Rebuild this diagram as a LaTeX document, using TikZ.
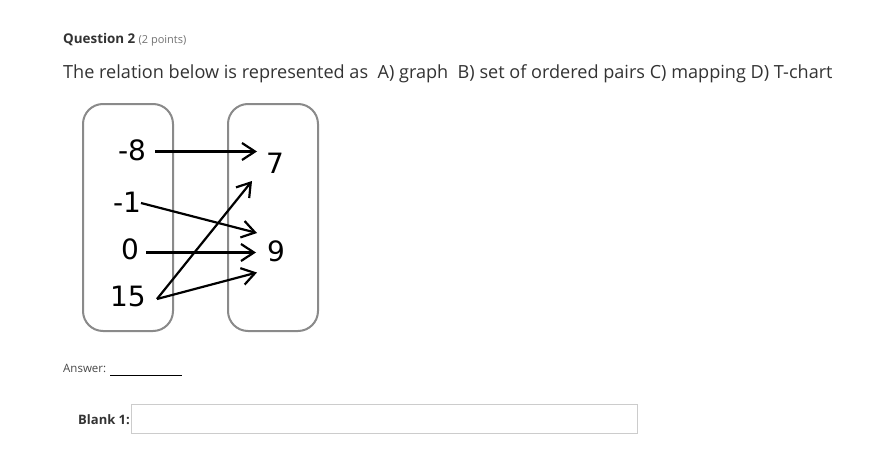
\documentclass[tikz,border=0pt]{standalone}
\usepackage{fontspec}
\setmainfont{Open Sans}
\newfontfamily\numfont{DejaVu Sans}
\usetikzlibrary{arrows.meta}
\definecolor{txt}{HTML}{333333}
\definecolor{boxgray}{HTML}{8A8A8A}
\definecolor{fieldgray}{HTML}{CCCCCC}
\begin{document}
\begin{tikzpicture}[x=1pt,y=-1pt,
  setbox/.style={draw=boxgray,line width=2pt,rounded corners=20pt},
  num/.style={inner sep=0pt,font=\numfont\fontsize{28}{28}\selectfont,text=black},
  maparrow/.style={line width=2.2pt,-{Straight Barb[length=13pt,width=17pt,line width=2.2pt]}},
  lbl/.style={inner sep=0pt,anchor=base west,text=txt}]
\useasboundingbox (0,0) rectangle (884,452);
\fill[white] (0,0) rectangle (884,452);
% header
\node[lbl,font=\fontsize{13.4}{13.4}\selectfont\bfseries] (q) at (63,44) {Question 2};
\node[lbl,font=\fontsize{11}{11}\selectfont,text=gray!90!black,anchor=base west] (pts) at (q.base east) {\ (2 points)};
\node[lbl,font=\fontsize{18.1}{18.1}\selectfont] (stmt) at (63,78) {The relation below is represented as\ \ A) graph\ \ B) set of ordered pairs C) mapping D) T-chart};
% boxes
\draw[setbox] (83,104) rectangle (173,331);
\draw[setbox] (228,104) rectangle (318,331);
% numbers
\node[num] (m8) at (132,150) {-8};
\node[num] (m1) at (127,202) {-1};
\node[num] (z0) at (130,249) {0};
\node[num] (f15) at (128,296) {15};
\node[num] (s7) at (275,163) {7};
\node[num] (n9) at (276,251) {9};
% arrow endpoints
\coordinate (a1s) at (155,151.5);
\coordinate (a1e) at (257,151.5);
\coordinate (a2s) at (141,203);
\coordinate (a2e) at (257,233);
\coordinate (a3s) at (146,252.5);
\coordinate (a3e) at (256,252.5);
\coordinate (a4s) at (157,299);
\coordinate (a4e) at (252,181);
\coordinate (a5e) at (257,272.5);
\draw[maparrow] (a1s) -- (a1e);
\draw[maparrow] (a2s) -- (a2e);
\draw[maparrow] (a3s) -- (a3e);
\draw[maparrow] (a4s) -- (a4e);
\draw[maparrow] (a4s) -- (a5e);
% answer
\node[lbl,font=\fontsize{11.5}{11.5}\selectfont,text=txt!90] (ans) at (63,372) {Answer:};
\coordinate (ul1) at (110,375.5);
\coordinate (ul2) at (182,375.5);
\draw[line width=0.8pt,black] (ul1) -- (ul2);
\node[lbl,font=\fontsize{13}{13}\selectfont\bfseries] (b1) at (78,424) {Blank 1:};
\draw[fieldgray,line width=1pt] (131.5,404.5) rectangle (637,433);
\end{tikzpicture}
\end{document}
